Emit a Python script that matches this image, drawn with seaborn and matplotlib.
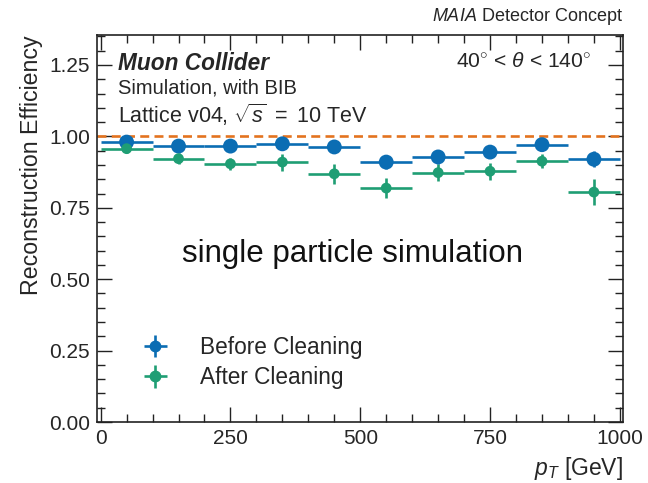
import numpy as np
import pandas as pd
import matplotlib
matplotlib.use("Agg")
import matplotlib.pyplot as plt
import seaborn as sns
from matplotlib.ticker import MultipleLocator

# ---- data ----
pt_centers = [50, 150, 250, 350, 450, 550, 650, 750, 850, 950]
pt_halfwidth = [50, 50, 50, 50, 50, 50, 50, 50, 50, 50]
eff_before = [0.980, 0.966, 0.966, 0.974, 0.963, 0.910, 0.928, 0.945, 0.971, 0.920]
err_before = [0.010, 0.012, 0.012, 0.012, 0.015, 0.025, 0.025, 0.020, 0.015, 0.028]
eff_after = [0.957, 0.922, 0.904, 0.910, 0.869, 0.819, 0.873, 0.878, 0.913, 0.805]
err_after = [0.015, 0.020, 0.020, 0.030, 0.035, 0.035, 0.030, 0.030, 0.025, 0.045]
series_labels = ["Before Cleaning", "After Cleaning"]
reference_line = 1.0

col_before = "#0b6db3"
col_after = "#1f9e74"
col_ref = "#e3731f"

sns.set_theme(style="ticks")
plt.rcParams["font.family"] = ["Liberation Sans", "DejaVu Sans"]
plt.rcParams["mathtext.fontset"] = "custom"
plt.rcParams["mathtext.rm"] = "Liberation Sans"
plt.rcParams["mathtext.it"] = "Liberation Sans:italic"
plt.rcParams["mathtext.bf"] = "Liberation Sans:bold"

fig = plt.figure(figsize=(6.48, 4.83), dpi=100)
ax = fig.add_axes([97/648, 1 - 422/483, 526/648, 387/483])

df = pd.DataFrame({
    "pt": pt_centers * 2,
    "eff": eff_before + eff_after,
    "err": err_before + err_after,
    "series": [series_labels[0]] * len(pt_centers) + [series_labels[1]] * len(pt_centers),
})

ax.axhline(reference_line, color=col_ref, ls=(0, (3.4, 2.0)), lw=1.9, zorder=1)

handles = []
for lab, col, ms in [(series_labels[0], col_before, 115), (series_labels[1], col_after, 60)]:
    d = df[df["series"] == lab]
    ax.errorbar(d["pt"], d["eff"], xerr=pt_halfwidth, yerr=d["err"], fmt="none",
                ecolor=col, elinewidth=1.9, capsize=0, zorder=2)
    sns.scatterplot(data=d, x="pt", y="eff", color=col, s=ms, edgecolor="none",
                    ax=ax, legend=False, zorder=3)
    handles.append(ax.errorbar([], [], xerr=[], yerr=[], fmt="o", color=col,
                               ms=7.5, elinewidth=1.9, capsize=0, label=lab))

ax.set_xlim(-7, 1006)
ax.set_ylim(0, 1.355)
ax.xaxis.set_major_locator(MultipleLocator(250))
ax.xaxis.set_minor_locator(MultipleLocator(50))
ax.yaxis.set_major_locator(MultipleLocator(0.25))
ax.yaxis.set_minor_locator(MultipleLocator(0.05))
ax.yaxis.set_major_formatter(matplotlib.ticker.FormatStrFormatter("%.2f"))
ax.tick_params(which="both", direction="in", top=True, right=True, labelsize=15,
               color="#222222", width=1.0)
ax.tick_params(which="major", length=11, pad=5)
ax.tick_params(which="minor", length=5.5)
for s in ax.spines.values():
    s.set_linewidth(1.2)
    s.set_color("#222222")

ax.set_ylabel("Reconstruction Efficiency", fontsize=16.7, loc="top", labelpad=4)
ax.set_xlabel(r"$p_T$ [GeV]", fontsize=16.5, loc="right", labelpad=5)

ax.text(0.04, 0.955, "Muon Collider", transform=ax.transAxes, fontsize=16.3,
        fontweight="bold", fontstyle="italic", va="top", ha="left")
ax.text(0.04, 0.887, "Simulation, with BIB", transform=ax.transAxes, fontsize=14.5,
        va="top", ha="left")
ax.text(0.04, 0.828, r"Lattice v04, $\sqrt{s}$ $=$ 10 TeV", transform=ax.transAxes,
        fontsize=15.5, va="top", ha="left")
ax.text(0.94, 0.955, r"40$^{\circ}$ < $\theta$ < 140$^{\circ}$", transform=ax.transAxes,
        fontsize=15.2, va="top", ha="right")
ax.text(1.0, 1.02, r"$\it{MAIA}$ Detector Concept", transform=ax.transAxes,
        fontsize=13, va="bottom", ha="right")

fig.text(352/648, 1 - 254/483, "single particle simulation", fontsize=22.5,
         ha="center", va="center", color="#111111")

ax.legend(handles=handles, labels=series_labels, loc="lower left",
          bbox_to_anchor=(0.04, 0.032), frameon=False, fontsize=16.3,
          handlelength=1.5, handletextpad=1.2, labelspacing=0.32)

fig.savefig("out.png", dpi=100)
